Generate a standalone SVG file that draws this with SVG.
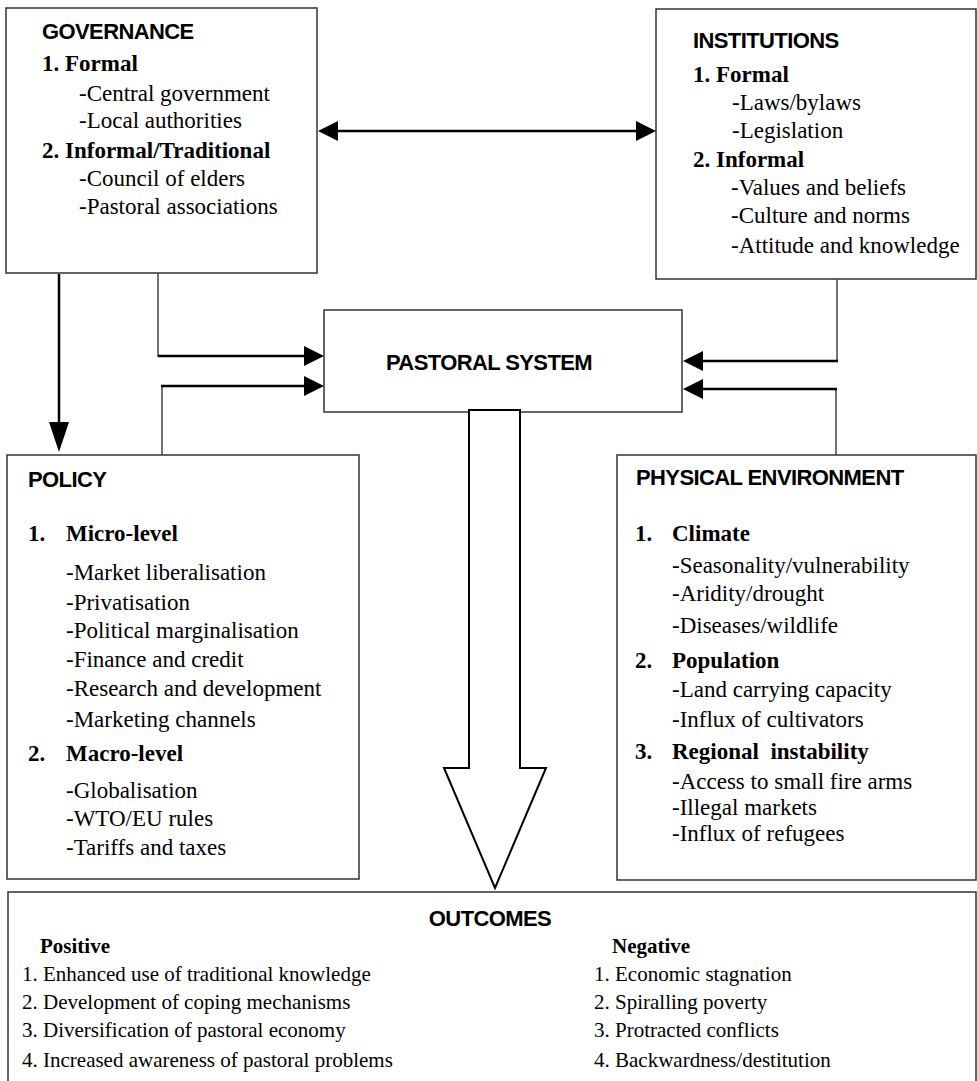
<svg xmlns="http://www.w3.org/2000/svg" width="977" height="1081" viewBox="0 0 977 1081">
<style>
.box{fill:#fff;stroke:#333;stroke-width:1.5}
.h{font-family:"Liberation Sans",Arial,sans-serif;font-weight:bold;font-size:22px;fill:#000;letter-spacing:-0.6px}
.s{font-family:"Liberation Serif","Times New Roman",serif;font-weight:bold;font-size:23px;fill:#000}
.t{font-family:"Liberation Serif","Times New Roman",serif;font-size:23px;fill:#000}
.os{font-family:"Liberation Serif","Times New Roman",serif;font-weight:bold;font-size:21px;fill:#000}
.ot{font-family:"Liberation Serif","Times New Roman",serif;font-size:21px;fill:#000}
.thin{stroke:#444;stroke-width:1.5;fill:none}
.thick{stroke:#000;stroke-width:2.5;fill:none}
</style>
<defs>
<marker id="ah" viewBox="0 0 20 20" refX="0" refY="10" markerWidth="20" markerHeight="20" markerUnits="userSpaceOnUse" orient="auto-start-reverse">
<path d="M0,0 L20,10 L0,20 z" fill="#000"/>
</marker>
<marker id="ahL" viewBox="0 0 30 20" refX="0" refY="10" markerWidth="30" markerHeight="20" markerUnits="userSpaceOnUse" orient="auto">
<path d="M0,0 L30,10 L0,20 z" fill="#000"/>
</marker>
</defs>

<g id="governance">
<rect class="box" x="6" y="8" width="311" height="265"/>
<text class="h" x="42" y="39">GOVERNANCE</text>
<text class="s" x="42" y="71">1. Formal</text>
<text class="t" x="79" y="101">-Central government</text>
<text class="t" x="79" y="128">-Local authorities</text>
<text class="s" x="42" y="158">2. Informal/Traditional</text>
<text class="t" x="79" y="186">-Council of elders</text>
<text class="t" x="79" y="214">-Pastoral associations</text>
</g>

<g id="institutions">
<rect class="box" x="656" y="9" width="320" height="270"/>
<text class="h" x="693" y="48">INSTITUTIONS</text>
<text class="s" x="693" y="82">1. Formal</text>
<text class="t" x="732" y="110">-Laws/bylaws</text>
<text class="t" x="732" y="138">-Legislation</text>
<text class="s" x="693" y="167">2. Informal</text>
<text class="t" x="731" y="195">-Values and beliefs</text>
<text class="t" x="731" y="223">-Culture and norms</text>
<text class="t" x="731" y="253">-Attitude and knowledge</text>
</g>

<g id="pastoral-system">
<rect class="box" x="324" y="310" width="358" height="102"/>
<text class="h" x="489" y="370" text-anchor="middle">PASTORAL SYSTEM</text>
</g>

<g id="policy">
<rect class="box" x="7" y="455" width="352" height="424"/>
<text class="h" x="28" y="487">POLICY</text>
<text class="s" x="28" y="541">1.</text>
<text class="s" x="66" y="541">Micro-level</text>
<text class="t" x="66" y="580">-Market liberalisation</text>
<text class="t" x="66" y="610">-Privatisation</text>
<text class="t" x="66" y="638">-Political marginalisation</text>
<text class="t" x="66" y="667">-Finance and credit</text>
<text class="t" x="66" y="696">-Research and development</text>
<text class="t" x="66" y="727">-Marketing channels</text>
<text class="s" x="28" y="761">2.</text>
<text class="s" x="66" y="761">Macro-level</text>
<text class="t" x="66" y="798">-Globalisation</text>
<text class="t" x="66" y="826">-WTO/EU rules</text>
<text class="t" x="66" y="855">-Tariffs and taxes</text>
</g>

<g id="physical-environment">
<rect class="box" x="617" y="455" width="359" height="425"/>
<text class="h" x="636" y="485">PHYSICAL ENVIRONMENT</text>
<text class="s" x="635" y="541">1.</text>
<text class="s" x="672" y="541">Climate</text>
<text class="t" x="672" y="573">-Seasonality/vulnerability</text>
<text class="t" x="672" y="601">-Aridity/drought</text>
<text class="t" x="672" y="633">-Diseases/wildlife</text>
<text class="s" x="635" y="668">2.</text>
<text class="s" x="672" y="668">Population</text>
<text class="t" x="672" y="697">-Land carrying capacity</text>
<text class="t" x="672" y="727">-Influx of cultivators</text>
<text class="s" x="635" y="759">3.</text>
<text class="s" x="672" y="759">Regional&#160; instability</text>
<text class="t" x="672" y="789">-Access to small fire arms</text>
<text class="t" x="672" y="815">-Illegal markets</text>
<text class="t" x="672" y="841">-Influx of refugees</text>
</g>

<g id="outcomes">
<rect class="box" x="8" y="892" width="968" height="200"/>
<text class="h" x="490" y="926" text-anchor="middle">OUTCOMES</text>
<text class="os" x="40" y="953">Positive</text>
<text class="ot" x="22" y="981">1. Enhanced use of traditional knowledge</text>
<text class="ot" x="22" y="1009">2. Development of coping mechanisms</text>
<text class="ot" x="22" y="1037">3. Diversification of pastoral economy</text>
<text class="ot" x="22" y="1067">4. Increased awareness of pastoral problems</text>
<text class="os" x="612" y="953">Negative</text>
<text class="ot" x="594" y="981">1. Economic stagnation</text>
<text class="ot" x="594" y="1009">2. Spiralling poverty</text>
<text class="ot" x="594" y="1037">3. Protracted conflicts</text>
<text class="ot" x="594" y="1067">4. Backwardness/destitution</text>
</g>

<g id="connectors">
<line class="thick" x1="338" y1="131" x2="636" y2="131" stroke-width="2" marker-start="url(#ah)" marker-end="url(#ah)"/>
<line class="thin" x1="158" y1="273" x2="158" y2="357"/>
<line class="thick" x1="158" y1="356" x2="304" y2="356" marker-end="url(#ah)"/>
<line class="thin" x1="162" y1="455" x2="162" y2="385"/>
<line class="thick" x1="161" y1="386" x2="304" y2="386" marker-end="url(#ah)"/>
<line class="thin" x1="837" y1="279" x2="837" y2="362"/>
<line class="thick" x1="838" y1="361" x2="703" y2="361" marker-end="url(#ah)"/>
<line class="thin" x1="836" y1="455" x2="836" y2="388"/>
<line class="thick" x1="837" y1="389" x2="703" y2="389" marker-end="url(#ah)"/>
<line class="thick" x1="59" y1="274" x2="59" y2="422" marker-end="url(#ahL)"/>
<polygon points="469,410 469,768 444,768 495,888 546,768 520,768 520,410" fill="#fff" stroke="#000" stroke-width="2"/>
</g>
</svg>
